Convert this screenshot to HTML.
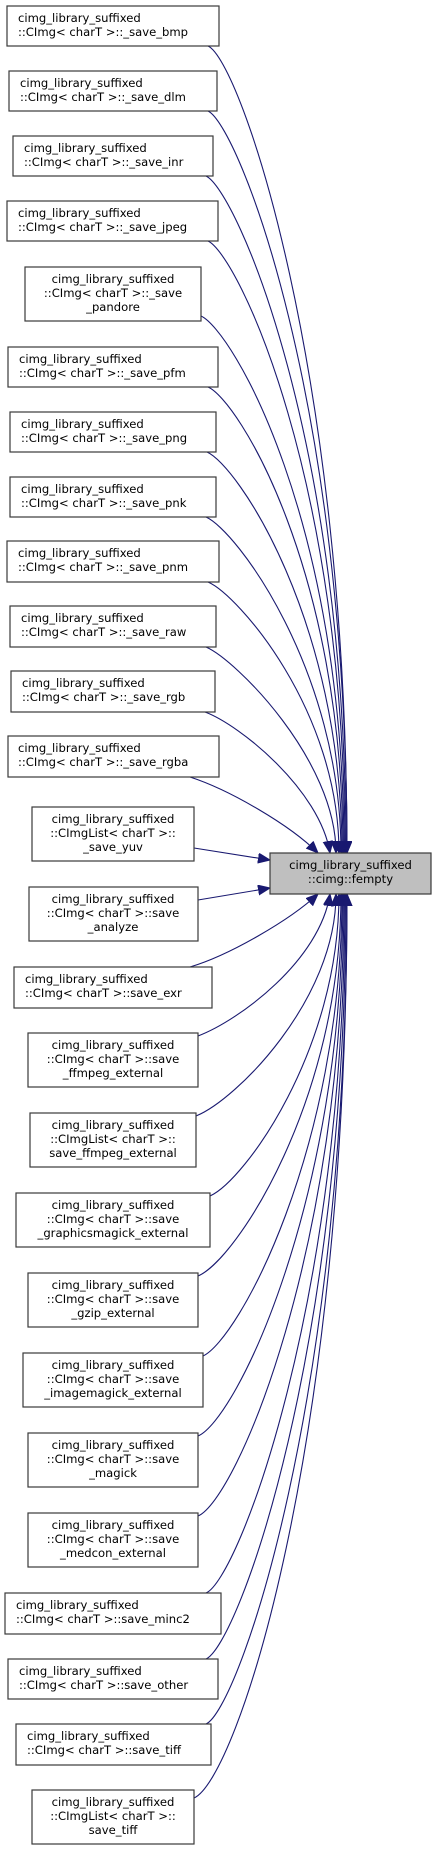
<!DOCTYPE html>
<html><head><meta charset="utf-8"><style>
html,body{margin:0;padding:0;background:#fff;}
svg{display:block;}
text{font-family:"DejaVu Sans","Liberation Sans",sans-serif;font-size:11.6px;fill:#000;}
.b{fill:#fff;stroke:#3a3a3a;stroke-width:1.2;}
.e{fill:none;stroke:#191970;stroke-width:1.1;}
</style></head><body>
<svg width="436" height="1851" viewBox="0 0 436 1851" xmlns="http://www.w3.org/2000/svg">
<defs>
<marker id="a" markerUnits="userSpaceOnUse" markerWidth="14" markerHeight="12" refX="12" refY="5" orient="auto">
<path d="M0,0 L12,5 L0,10 Z" fill="#191970" stroke="#191970"/>
</marker>
</defs>

<!-- edges: upper -->
<path class="e" marker-end="url(#a)" d="M208,46 C240,60 347,370 347,853"/>
<path class="e" marker-end="url(#a)" d="M208,111 C238,125 347,400 347,853"/>
<path class="e" marker-end="url(#a)" d="M206,176 C236,190 346,440 346,853"/>
<path class="e" marker-end="url(#a)" d="M208,241 C238,255 345,480 345,853"/>
<path class="e" marker-end="url(#a)" d="M201,316 C232,330 344,520 344,853"/>
<path class="e" marker-end="url(#a)" d="M208,387 C238,400 343,570 343,853"/>
<path class="e" marker-end="url(#a)" d="M207,452 C237,465 342,620 342,853"/>
<path class="e" marker-end="url(#a)" d="M206,517 C236,530 341,670 341,853"/>
<path class="e" marker-end="url(#a)" d="M208,582 C238,595 339,710 339,853"/>
<path class="e" marker-end="url(#a)" d="M206,647 C236,660 336,760 336,853"/>
<path class="e" marker-end="url(#a)" d="M205,712 C240,725 320,790 330,853"/>
<path class="e" marker-end="url(#a)" d="M190,777 C230,790 290,825 318,853"/>
<!-- middle -->
<path class="e" marker-end="url(#a)" d="M194,848 L270,860"/>
<path class="e" marker-end="url(#a)" d="M198,900 L270,888"/>
<!-- lower -->
<path class="e" marker-end="url(#a)" d="M190,967 C230,955 290,920 318,894"/>
<path class="e" marker-end="url(#a)" d="M198,1036 C240,1020 320,960 330,894"/>
<path class="e" marker-end="url(#a)" d="M196,1116 C236,1100 336,1000 336,894"/>
<path class="e" marker-end="url(#a)" d="M210,1196 C245,1180 339,1050 339,894"/>
<path class="e" marker-end="url(#a)" d="M198,1276 C236,1260 341,1100 341,894"/>
<path class="e" marker-end="url(#a)" d="M203,1356 C238,1340 342,1150 342,894"/>
<path class="e" marker-end="url(#a)" d="M198,1436 C236,1420 343,1200 343,894"/>
<path class="e" marker-end="url(#a)" d="M198,1516 C236,1500 344,1250 344,894"/>
<path class="e" marker-end="url(#a)" d="M206,1593 C238,1580 345,1300 345,894"/>
<path class="e" marker-end="url(#a)" d="M206,1659 C238,1645 346,1350 346,894"/>
<path class="e" marker-end="url(#a)" d="M206,1724 C238,1710 347,1400 347,894"/>
<path class="e" marker-end="url(#a)" d="M194,1798 C236,1780 347,1450 347,894"/>

<!-- target -->
<rect x="270" y="853" width="161" height="41" fill="#bfbfbf" stroke="#3a3a3a" stroke-width="1.2"/>
<text x="350.5" y="869" text-anchor="middle">cimg_library_suffixed</text>
<text x="350.5" y="883" text-anchor="middle">::cimg::fempty</text>

<!-- 2-line boxes -->
<rect class="b" x="7" y="6" width="212" height="40"/><text x="18" y="22">cimg_library_suffixed</text><text x="18" y="36">::CImg&lt; charT &gt;::_save_bmp</text>
<rect class="b" x="9" y="71" width="208" height="40"/><text x="20" y="87">cimg_library_suffixed</text><text x="20" y="101">::CImg&lt; charT &gt;::_save_dlm</text>
<rect class="b" x="13" y="136" width="200" height="40"/><text x="24" y="152">cimg_library_suffixed</text><text x="24" y="166">::CImg&lt; charT &gt;::_save_inr</text>
<rect class="b" x="7" y="201" width="211" height="40"/><text x="18" y="217">cimg_library_suffixed</text><text x="18" y="231">::CImg&lt; charT &gt;::_save_jpeg</text>
<rect class="b" x="25" y="267" width="176" height="54"/><text x="113" y="283" text-anchor="middle">cimg_library_suffixed</text><text x="113" y="297" text-anchor="middle">::CImg&lt; charT &gt;::_save</text><text x="113" y="311" text-anchor="middle">_pandore</text>
<rect class="b" x="8" y="347" width="210" height="40"/><text x="19" y="363">cimg_library_suffixed</text><text x="19" y="377">::CImg&lt; charT &gt;::_save_pfm</text>
<rect class="b" x="10" y="412" width="206" height="40"/><text x="21" y="428">cimg_library_suffixed</text><text x="21" y="442">::CImg&lt; charT &gt;::_save_png</text>
<rect class="b" x="10" y="477" width="206" height="40"/><text x="21" y="493">cimg_library_suffixed</text><text x="21" y="507">::CImg&lt; charT &gt;::_save_pnk</text>
<rect class="b" x="7" y="541" width="212" height="41"/><text x="18" y="557">cimg_library_suffixed</text><text x="18" y="571">::CImg&lt; charT &gt;::_save_pnm</text>
<rect class="b" x="10" y="606" width="206" height="41"/><text x="21" y="622">cimg_library_suffixed</text><text x="21" y="636">::CImg&lt; charT &gt;::_save_raw</text>
<rect class="b" x="11" y="671" width="204" height="41"/><text x="22" y="687">cimg_library_suffixed</text><text x="22" y="701">::CImg&lt; charT &gt;::_save_rgb</text>
<rect class="b" x="8" y="736" width="211" height="41"/><text x="18" y="752">cimg_library_suffixed</text><text x="18" y="766">::CImg&lt; charT &gt;::_save_rgba</text>

<rect class="b" x="32" y="807" width="162" height="54"/><text x="113" y="823" text-anchor="middle">cimg_library_suffixed</text><text x="113" y="837" text-anchor="middle">::CImgList&lt; charT &gt;::</text><text x="113" y="851" text-anchor="middle">_save_yuv</text>
<rect class="b" x="29" y="887" width="169" height="54"/><text x="113" y="903" text-anchor="middle">cimg_library_suffixed</text><text x="113" y="917" text-anchor="middle">::CImg&lt; charT &gt;::save</text><text x="113" y="931" text-anchor="middle">_analyze</text>
<rect class="b" x="14" y="967" width="198" height="41"/><text x="25" y="983">cimg_library_suffixed</text><text x="25" y="997">::CImg&lt; charT &gt;::save_exr</text>

<rect class="b" x="28" y="1033" width="170" height="54"/><text x="113" y="1049" text-anchor="middle">cimg_library_suffixed</text><text x="113" y="1063" text-anchor="middle">::CImg&lt; charT &gt;::save</text><text x="113" y="1077" text-anchor="middle">_ffmpeg_external</text>
<rect class="b" x="30" y="1113" width="166" height="54"/><text x="113" y="1129" text-anchor="middle">cimg_library_suffixed</text><text x="113" y="1143" text-anchor="middle">::CImgList&lt; charT &gt;::</text><text x="113" y="1157" text-anchor="middle">save_ffmpeg_external</text>
<rect class="b" x="16" y="1193" width="194" height="54"/><text x="113" y="1209" text-anchor="middle">cimg_library_suffixed</text><text x="113" y="1223" text-anchor="middle">::CImg&lt; charT &gt;::save</text><text x="113" y="1237" text-anchor="middle">_graphicsmagick_external</text>
<rect class="b" x="28" y="1273" width="170" height="54"/><text x="113" y="1289" text-anchor="middle">cimg_library_suffixed</text><text x="113" y="1303" text-anchor="middle">::CImg&lt; charT &gt;::save</text><text x="113" y="1317" text-anchor="middle">_gzip_external</text>
<rect class="b" x="23" y="1353" width="180" height="54"/><text x="113" y="1369" text-anchor="middle">cimg_library_suffixed</text><text x="113" y="1383" text-anchor="middle">::CImg&lt; charT &gt;::save</text><text x="113" y="1397" text-anchor="middle">_imagemagick_external</text>
<rect class="b" x="28" y="1433" width="170" height="54"/><text x="113" y="1449" text-anchor="middle">cimg_library_suffixed</text><text x="113" y="1463" text-anchor="middle">::CImg&lt; charT &gt;::save</text><text x="113" y="1477" text-anchor="middle">_magick</text>
<rect class="b" x="28" y="1513" width="170" height="54"/><text x="113" y="1529" text-anchor="middle">cimg_library_suffixed</text><text x="113" y="1543" text-anchor="middle">::CImg&lt; charT &gt;::save</text><text x="113" y="1557" text-anchor="middle">_medcon_external</text>
<rect class="b" x="5" y="1593" width="216" height="41"/><text x="16" y="1609">cimg_library_suffixed</text><text x="16" y="1623">::CImg&lt; charT &gt;::save_minc2</text>
<rect class="b" x="8" y="1659" width="210" height="40"/><text x="19" y="1675">cimg_library_suffixed</text><text x="19" y="1689">::CImg&lt; charT &gt;::save_other</text>
<rect class="b" x="16" y="1724" width="195" height="41"/><text x="27" y="1740">cimg_library_suffixed</text><text x="27" y="1754">::CImg&lt; charT &gt;::save_tiff</text>
<rect class="b" x="32" y="1790" width="162" height="54"/><text x="113" y="1806" text-anchor="middle">cimg_library_suffixed</text><text x="113" y="1820" text-anchor="middle">::CImgList&lt; charT &gt;::</text><text x="113" y="1834" text-anchor="middle">save_tiff</text>
</svg>
</body></html>
